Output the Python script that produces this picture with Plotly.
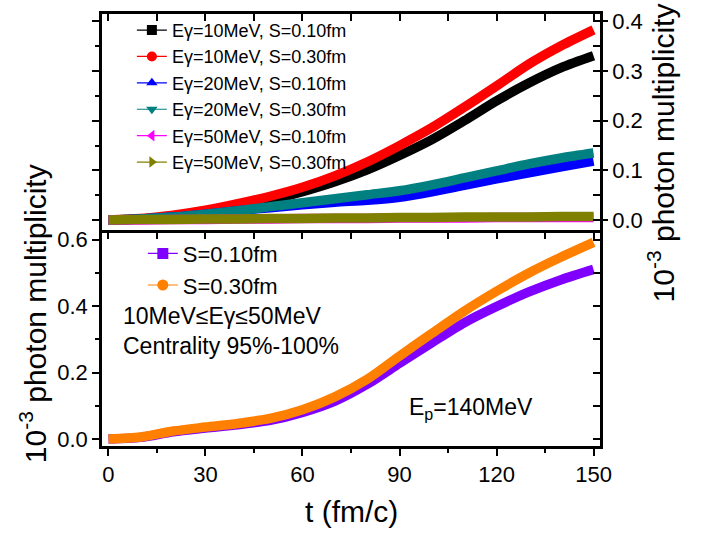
import plotly.graph_objects as go

# ---------------- data ----------------
t = [0, 10, 20, 30, 40, 50, 60, 70, 80, 90, 100, 110, 120, 130, 140, 150]

# top panel (10^-3 photon multiplicity)
e10_s010 = [0.000, 0.002, 0.008, 0.016, 0.027, 0.040, 0.057, 0.077, 0.101, 0.130, 0.162, 0.200, 0.240, 0.276, 0.307, 0.331]
e10_s030 = [0.000, 0.003, 0.010, 0.020, 0.033, 0.048, 0.066, 0.089, 0.117, 0.150, 0.186, 0.227, 0.270, 0.314, 0.351, 0.383]
e20_s010 = [0.000, 0.002, 0.006, 0.012, 0.019, 0.025, 0.031, 0.036, 0.040, 0.046, 0.057, 0.070, 0.083, 0.095, 0.107, 0.119]
e20_s030 = [0.000, 0.002, 0.006, 0.012, 0.019, 0.027, 0.035, 0.043, 0.051, 0.059, 0.071, 0.085, 0.099, 0.113, 0.125, 0.135]
e50_s010 = [0.000, 0.000, 0.001, 0.001, 0.002, 0.002, 0.003, 0.003, 0.003, 0.004, 0.004, 0.004, 0.005, 0.005, 0.005, 0.005]
e50_s030 = [0.000, 0.001, 0.001, 0.002, 0.002, 0.003, 0.003, 0.004, 0.004, 0.005, 0.005, 0.006, 0.006, 0.006, 0.007, 0.007]

# bottom panel (10MeV <= Egamma <= 50MeV)
tot_s010 = [0.000, 0.005, 0.022, 0.033, 0.043, 0.056, 0.080, 0.114, 0.165, 0.228, 0.290, 0.350, 0.399, 0.443, 0.480, 0.511]
tot_s030 = [0.000, 0.006, 0.024, 0.036, 0.047, 0.062, 0.088, 0.127, 0.180, 0.250, 0.318, 0.385, 0.445, 0.500, 0.548, 0.592]

top_names = ["E\u03b3=10MeV, S=0.10fm", "E\u03b3=10MeV, S=0.30fm", "E\u03b3=20MeV, S=0.10fm",
             "E\u03b3=20MeV, S=0.30fm", "E\u03b3=50MeV, S=0.10fm", "E\u03b3=50MeV, S=0.30fm"]
bottom_names = ["S=0.10fm", "S=0.30fm"]

x_ticks = [0, 30, 60, 90, 120, 150]
top_y_ticks = [0.0, 0.1, 0.2, 0.3, 0.4]
bottom_y_ticks = [0.0, 0.2, 0.4, 0.6]

# ---------------- style ----------------
FONT = "Arial, 'Liberation Sans', sans-serif"
top_series = [e10_s010, e10_s030, e20_s010, e20_s030, e50_s010, e50_s030]
top_colors = ["#000000", "#FF0000", "#0000FF", "#008080", "#FF00FF", "#808000"]
top_symbols = ["square", "circle", "triangle-up", "triangle-down", "triangle-left", "triangle-right"]
bottom_series = [tot_s010, tot_s030]
bottom_colors = ["#8000FF", "#FF8000"]
bottom_symbols = ["square", "circle"]

BAND = 9.5

fig = go.Figure()

for ys, c in zip(top_series, top_colors):
    fig.add_trace(go.Scatter(x=t, y=ys, mode="lines", xaxis="x2", yaxis="y2",
                             line=dict(color=c, width=BAND, shape="spline", smoothing=0.8),
                             showlegend=False, hoverinfo="skip"))
# legend samples (on the overlay axes of the top panel)
for n, c, s in zip(top_names, top_colors, top_symbols):
    fig.add_trace(go.Scatter(x=[None], y=[None], mode="lines+markers", xaxis="x3", yaxis="y4",
                             name=n, legend="legend",
                             line=dict(color=c, width=1.2),
                             marker=dict(color=c, symbol=s, size=10)))

for ys, c in zip(bottom_series, bottom_colors):
    fig.add_trace(go.Scatter(x=t, y=ys, mode="lines", xaxis="x", yaxis="y",
                             line=dict(color=c, width=BAND, shape="spline", smoothing=0.8),
                             showlegend=False, hoverinfo="skip"))
for n, c, s in zip(bottom_names, bottom_colors, bottom_symbols):
    fig.add_trace(go.Scatter(x=[None], y=[None], mode="lines+markers", xaxis="x", yaxis="y3",
                             name=n, legend="legend2",
                             line=dict(color=c, width=1.2),
                             marker=dict(color=c, symbol=s, size=11)))

XR = [-2, 152]
TOP_R = [-0.019, 0.415]
BOT_R = [-0.021, 0.631]
SPLIT = 219 / 437

common = dict(showgrid=False, zeroline=False, showline=True, linecolor="black", linewidth=2.5,
              tickcolor="black", tickwidth=1.5)

fig.update_layout(
    width=717, height=533,
    margin=dict(l=102, r=117, t=9, b=87),
    paper_bgcolor="white", plot_bgcolor="white",
    font=dict(family=FONT, color="black"),
    xaxis=dict(domain=[0, 1], anchor="y", range=XR, tickvals=x_ticks, ticks="outside", ticklen=7,
               minor=dict(dtick=15, tick0=0, ticks="outside", ticklen=4, tickwidth=1.5, tickcolor="black"),
               tickfont=dict(size=22, family=FONT), **common),
    xaxis2=dict(domain=[0, 1], anchor="y2", range=XR, dtick=15, tick0=0, ticks="outside", ticklen=7,
                showticklabels=False, **common),
    xaxis3=dict(overlaying="x2", anchor="y2", side="top", range=XR, dtick=15, tick0=0,
                ticks="inside", ticklen=7, showticklabels=False, **common),
    yaxis=dict(domain=[0, SPLIT], anchor="x", range=BOT_R, tickvals=bottom_y_ticks, tickformat=".1f",
               ticks="outside", ticklen=7,
               minor=dict(dtick=0.1, tick0=0, ticks="outside", ticklen=4, tickwidth=1.5, tickcolor="black"),
               tickfont=dict(size=22, family=FONT), **common),
    yaxis3=dict(overlaying="y", anchor="x", side="right", range=BOT_R, dtick=0.1, tick0=0,
                ticks="inside", ticklen=7, showticklabels=False, **common),
    yaxis2=dict(domain=[SPLIT, 1], anchor="x2", range=TOP_R, dtick=0.1, tick0=0,
                ticks="outside", ticklen=7, showticklabels=False,
                minor=dict(dtick=0.05, tick0=0, ticks="outside", ticklen=4, tickwidth=1.5, tickcolor="black"),
                **common),
    yaxis4=dict(overlaying="y2", anchor="x3", side="right", range=TOP_R, tickvals=top_y_ticks,
                tickformat=".1f", ticks="outside", ticklen=5,
                minor=dict(dtick=0.05, tick0=0, ticks="inside", ticklen=7, tickwidth=1.5, tickcolor="black"),
                tickfont=dict(size=22, family=FONT), **common),
    legend=dict(x=0.06, y=1.005, xanchor="left", yanchor="top", bgcolor="rgba(0,0,0,0)",
                font=dict(size=18, family=FONT), tracegroupgap=0, traceorder="normal"),
    legend2=dict(x=0.082, y=0.494, xanchor="left", yanchor="top", bgcolor="rgba(0,0,0,0)",
                 font=dict(size=22, family=FONT), tracegroupgap=0, traceorder="normal"),
    showlegend=True,
)

ann = [
    dict(text="t (fm/c)", x=0.5, y=-0.151, size=30),
    dict(text="10<sup>-3</sup> photon multiplicity", x=-0.137, y=0.307, textangle=-90, size=30),
    dict(text="10<sup>-3</sup> photon multiplicity", x=1.122, y=0.679, textangle=-90, size=30),
    dict(text="10MeV\u2264E\u03b3\u226450MeV", x=0.038, y=0.30, xanchor="left", size=23),
    dict(text="Centrality 95%-100%", x=0.038, y=0.231, xanchor="left", size=23),
    dict(text="E<sub>p</sub>=140MeV", x=0.612, y=0.086, xanchor="left", size=23),
]
for a in ann:
    a.setdefault("xanchor", "center")
    size = a.pop("size")
    fig.add_annotation(xref="paper", yref="paper", showarrow=False, yanchor="middle",
                       font=dict(family=FONT, size=size, color="black"), **a)

fig.write_html("out.html", config={"displayModeBar": False},
               post_script="document.body.style.margin='0';document.body.style.overflow='hidden';")
